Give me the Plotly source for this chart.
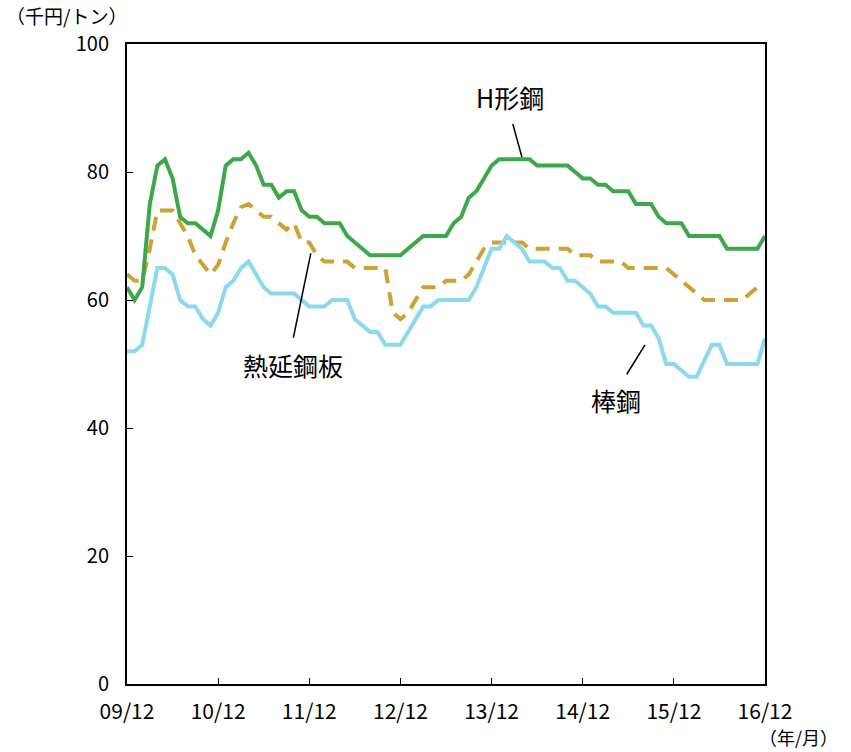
import plotly.graph_objects as go

# Monthly steel prices (thousand yen per ton), Dec 2009 - Dec 2016
months = list(range(85))
tick_pos = [0, 12, 24, 36, 48, 60, 72, 84]
tick_labels = ["09/12", "10/12", "11/12", "12/12", "13/12", "14/12", "15/12", "16/12"]

h_beam = [62, 60, 62, 75, 81, 82, 79, 73, 72, 72, 71, 70, 74, 81, 82, 82, 83, 81, 78, 78,
          76, 77, 77, 74, 73, 73, 72, 72, 72, 70, 69, 68, 67, 67, 67, 67, 67, 68, 69, 70,
          70, 70, 70, 72, 73, 76, 77, 79, 81, 82, 82, 82, 82, 82, 81, 81, 81, 81, 81, 80,
          79, 79, 78, 78, 77, 77, 77, 75, 75, 75, 73, 72, 72, 72, 70, 70, 70, 70, 70, 68,
          68, 68, 68, 68, 70]

hot_coil = [64, 63, 63, 68, 74, 74, 74, 72, 70, 67, 65.5, 64, 65.5, 69, 72, 74.5, 75, 74, 73, 73,
            72, 71, 72, 69, 69, 67, 66, 66, 66, 66, 65, 65, 65, 65, 65, 58, 57, 58, 60, 62,
            62, 62, 63, 63, 63, 64, 66, 68, 69, 69, 69, 69, 69, 68, 68, 68, 68, 68, 68, 67,
            67, 67, 66, 66, 66, 66, 65, 65, 65, 65, 65, 65, 64, 63, 62, 61, 60, 60, 60, 60,
            60, 60, 61, 62, 62]

bar_steel = [52, 52, 53, 59, 65, 65, 64, 60, 59, 59, 57, 56, 58, 62, 63, 65, 66, 64, 62, 61,
             61, 61, 61, 60, 59, 59, 59, 60, 60, 60, 57, 56, 55, 55, 53, 53, 53, 55, 57, 59,
             59, 60, 60, 60, 60, 60, 62, 65, 68, 68, 70, 69, 68, 66, 66, 66, 65, 65, 63, 63,
             62, 61, 59, 59, 58, 58, 58, 58, 56, 56, 54, 50, 50, 49, 48, 48, 50.5, 53, 53, 50,
             50, 50, 50, 50, 54]

GREEN = "#3ca84b"
GOLD = "#cca233"
CYAN = "#8ad9ef"
JP_FONT = "Noto Sans CJK JP"

fig = go.Figure()
fig.add_trace(go.Scatter(x=months, y=hot_coil, mode="lines", name="熱延鋼板",
                         line=dict(color=GOLD, width=4, dash="14px,9px")))
fig.add_trace(go.Scatter(x=months, y=bar_steel, mode="lines", name="棒鋼",
                         line=dict(color=CYAN, width=4)))
fig.add_trace(go.Scatter(x=months, y=h_beam, mode="lines", name="H形鋼",
                         line=dict(color=GREEN, width=4)))

# Series labels with leader lines
labels = [
    dict(text="H形鋼", x=50.4, y=91.7, line=(50.8, 87.5, 52.0, 82.3)),
    dict(text="熱延鋼板", x=21.9, y=49.8, line=(24.2, 67.3, 21.9, 54.1)),
    dict(text="棒鋼", x=64.4, y=44.4, line=(68.2, 53.0, 65.8, 48.4)),
]
for lab in labels:
    fig.add_annotation(x=lab["x"], y=lab["y"], text=lab["text"], showarrow=False,
                       font=dict(family=JP_FONT, size=25, color="#000"))
    x0, y0, x1, y1 = lab["line"]
    fig.add_shape(type="line", x0=x0, y0=y0, x1=x1, y1=y1, xref="x", yref="y",
                  line=dict(color="#000", width=1.5))

fig.add_annotation(xref="paper", yref="paper", x=-0.193, y=1.045, xanchor="left",
                   yanchor="middle", text="（千円/トン）", showarrow=False,
                   font=dict(family=JP_FONT, size=19, color="#000"))
fig.add_annotation(xref="paper", yref="paper", x=1.118, y=-0.083, xanchor="right",
                   yanchor="middle", text="（年/月）", showarrow=False,
                   font=dict(family=JP_FONT, size=18, color="#000"))

fig.update_layout(
    width=851, height=752,
    margin=dict(l=127, r=86, t=44, b=68),
    paper_bgcolor="white", plot_bgcolor="white",
    showlegend=False,
    font=dict(family=JP_FONT, color="#000"),
)
fig.update_xaxes(
    range=[0, 84], tickvals=tick_pos, ticktext=tick_labels,
    ticks="inside", ticklen=6, tickwidth=1, tickcolor="#000",
    showline=True, linecolor="#000", linewidth=2, mirror=True,
    showgrid=False, zeroline=False,
    tickfont=dict(family=JP_FONT, size=21, color="#000"),
    ticklabelstandoff=8,
)
fig.update_yaxes(
    range=[0, 100], tickvals=[0, 20, 40, 60, 80, 100],
    ticks="inside", ticklen=6, tickwidth=1, tickcolor="#000",
    showline=True, linecolor="#000", linewidth=2, mirror=True,
    showgrid=False, zeroline=False,
    tickfont=dict(family=JP_FONT, size=20, color="#000"),
    ticklabelstandoff=12,
)

fig.write_html("out.html")
